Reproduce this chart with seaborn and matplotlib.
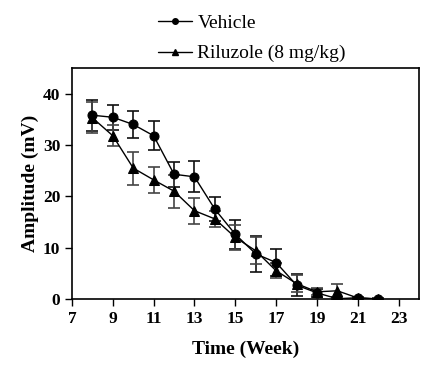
import matplotlib
matplotlib.use("Agg")
import matplotlib.pyplot as plt
import seaborn as sns
import pandas as pd
from matplotlib.lines import Line2D

weeks_vehicle = [8, 9, 10, 11, 12, 13, 14, 15, 16, 17, 18, 19, 20, 21, 22]
vehicle = [35.8, 35.4, 34.0, 31.8, 24.3, 23.8, 17.5, 12.6, 8.8, 7.1, 2.7, 1.2, 0.05, 0.25, 0.0]
vehicle_err = [3.0, 2.4, 2.7, 2.8, 2.4, 3.0, 2.4, 2.8, 3.5, 2.6, 2.2, 0.8, 0.3, 0.2, 0.1]

weeks_riluzole = [8, 9, 10, 11, 12, 13, 14, 15, 16, 17, 18, 19, 20, 21, 22]
riluzole = [35.3, 31.8, 25.5, 23.2, 21.0, 17.2, 15.6, 12.0, 9.4, 5.5, 3.0, 1.4, 1.6, 0.2, 0.0]
riluzole_err = [3.0, 2.0, 3.2, 2.6, 3.2, 2.5, 1.5, 2.4, 2.6, 1.5, 1.6, 0.7, 1.4, 0.2, 0.1]

labels = ["Vehicle", "Riluzole (8 mg/kg)"]
x_ticks = [7, 9, 11, 13, 15, 17, 19, 21, 23]
y_ticks = [0, 10, 20, 30, 40]

sns.set_theme(style="ticks")
plt.rcParams['font.family'] = ['Liberation Serif', 'DejaVu Serif']
plt.rcParams['text.color'] = 'black'
plt.rcParams['axes.labelcolor'] = 'black'

fig = plt.figure(figsize=(4.43, 3.68), dpi=100)
ax = fig.add_axes([72/443, 1-299/368, (419-72)/443, (299-68)/368])

df_v = pd.DataFrame({"week": weeks_vehicle, "amp": vehicle})
df_r = pd.DataFrame({"week": weeks_riluzole, "amp": riluzole})

ax.errorbar(weeks_vehicle, vehicle, yerr=vehicle_err, fmt='none', ecolor='#111111',
            elinewidth=1.2, capsize=4, capthick=1.2, zorder=2)
ax.errorbar(weeks_riluzole, riluzole, yerr=riluzole_err, fmt='none', ecolor='#444444',
            elinewidth=1.2, capsize=4, capthick=1.2, zorder=2)
sns.lineplot(data=df_v, x="week", y="amp", ax=ax, color='black', marker='o',
             markersize=6.5, markeredgecolor='black', linewidth=1.0, zorder=3)
sns.lineplot(data=df_r, x="week", y="amp", ax=ax, color='black', marker='^',
             markersize=7, markeredgecolor='black', linewidth=1.0, zorder=3)

ax.set_xlim(7, 24)
ax.set_ylim(0, 45)
ax.set_xticks(x_ticks)
ax.set_yticks(y_ticks)
ax.tick_params(axis='both', direction='out', length=5, width=1, colors='black',
               labelsize=12.5)
for t in ax.get_xticklabels() + ax.get_yticklabels():
    t.set_fontweight('bold')
for s in ax.spines.values():
    s.set_color('black')
    s.set_linewidth(1.2)
ax.set_xlabel("Time (Week)", fontsize=14, fontweight='bold', labelpad=10)
ax.set_ylabel("Amplitude (mV)", fontsize=14, fontweight='bold', labelpad=3)

handles = [Line2D([0], [0], color='black', lw=1, marker='o', markersize=4),
           Line2D([0], [0], color='black', lw=1, marker='^', markersize=4.5)]
fig.legend(handles, labels, loc='upper left', bbox_to_anchor=(140/443, 1+3/368),
           frameon=False, fontsize=14, handlelength=1.75, handletextpad=0.3,
           labelspacing=0.65)

fig.savefig("out.png", dpi=100)
